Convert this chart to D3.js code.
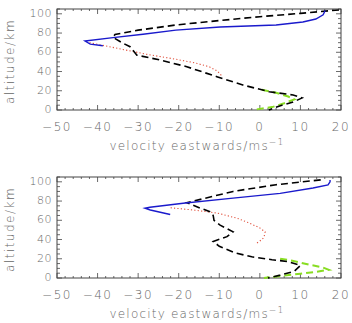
<!DOCTYPE html>
<html>
<head>
<meta charset="utf-8">
<script src="https://cdn.jsdelivr.net/npm/d3@7"></script>
<style>
  body { margin: 0; background: #fff; }
  svg text { font-family: "DejaVu Sans", sans-serif; font-weight: 300; fill: #666; }
</style>
</head>
<body>
<div id="chart"></div>
<script>
// tick values
var xTicks = [-50, -40, -30, -20, -10, 0, 10, 20];
var yTicks = [0, 20, 40, 60, 80, 100];

// upper panel, [velocity, altitude]
var topBlue = [[16.1,103.5],[15.6,99],[13.8,94.6],[10.6,91.5],[4,88.4],[-9.8,86.3],[-20.7,83],[-28.8,78.7],[-36.2,75.2],[-43.1,71.7],[-41.8,68.5],[-38.7,66.8]];
var topRed = [[-42,70],[-35,64],[-28,58],[-21,53],[-16,49],[-12.5,45],[-10.5,40.5],[-9.5,36]];
var topBlack = [[19.5,104],[10,100.5],[0,97],[-10,93],[-20.5,88.5],[-30,83],[-35.7,78.5],[-36.2,75.5],[-34,70],[-32,65.8],[-30.3,57],[-24.6,52],[-18,45],[-10.6,34.6],[-4.2,26],[2.3,19],[8.2,15.6],[10.4,12.5],[8.2,8.3],[4.7,4],[2.2,0]];
var topGreen = [[0.5,21],[4,18],[7,14],[8.5,11],[6,7],[3,3],[-1,0.5]];

// lower panel
var botBlue = [[17.3,102],[17.3,100],[16.8,96.7],[13.1,93.6],[5,88],[-6.6,83],[-18.9,77.7],[-27.1,73.5],[-28.3,72.5],[-27,70.7],[-22.1,66]];
var botRed = [[-22,73],[-16,70.5],[-10.5,67.5],[-5.5,62],[-2.5,57],[0,52],[1.3,48],[1,42],[0,38.5],[-1,35.5]];
var botBlack = [[15,102],[4,97],[-6.6,90],[-18,78.3],[-17,76.5],[-14.8,72.8],[-12.3,69],[-11.5,65],[-11.3,60],[-9.8,55],[-6.6,48],[-8.1,43],[-11.5,38],[-10,33],[-6,26],[-2,22],[3,19],[7,17],[10,13],[8.5,7],[5,3],[2,0]];
var botGreen = [[5,20],[8,18],[12,14],[15.5,11],[17,8.5],[14,6.5],[10,4.5],[6,2.5],[3,1],[1,0]];

var width = 352, height = 323;
var svg = d3.select("#chart").append("svg")
    .attr("width", width).attr("height", height);

var styles = {
    blue:  {color: "#1a1acc", w: 1.4, dash: null},
    red:   {color: "#e0503c", w: 1.1, dash: "1.2,2.2"},
    black: {color: "#000000", w: 1.6, dash: "7,4"},
    green: {color: "#88dd22", w: 2, dash: "7,4"}
};

function drawPanel(top, bottom, series) {
    var left = 57, right = 341;
    var x = d3.scaleLinear().domain([-50, 20]).range([left, right]);
    var y = d3.scaleLinear().domain([0, 105]).range([bottom, top]);
    var g = svg.append("g");

    // frame
    g.append("rect")
        .attr("x", left).attr("y", top)
        .attr("width", right - left).attr("height", bottom - top)
        .attr("fill", "none").attr("stroke", "#444").attr("stroke-width", 1);

    // ticks inward on all sides
    var xMinor = d3.range(-50, 20.01, 2);
    var yMinor = d3.range(0, 105.01, 5);
    xMinor.forEach(function(v) {
        var len = (v % 10 === 0) ? 5 : 2;
        g.append("line").attr("x1", x(v)).attr("x2", x(v)).attr("y1", bottom).attr("y2", bottom - len)
            .attr("stroke", "#444").attr("stroke-width", 0.8);
        g.append("line").attr("x1", x(v)).attr("x2", x(v)).attr("y1", top).attr("y2", top + len)
            .attr("stroke", "#444").attr("stroke-width", 0.8);
    });
    yMinor.forEach(function(v) {
        var len = (v % 20 === 0) ? 5 : 3;
        g.append("line").attr("x1", left).attr("x2", left + len).attr("y1", y(v)).attr("y2", y(v))
            .attr("stroke", "#444").attr("stroke-width", 0.8);
        g.append("line").attr("x1", right).attr("x2", right - len).attr("y1", y(v)).attr("y2", y(v))
            .attr("stroke", "#444").attr("stroke-width", 0.8);
    });

    // tick labels
    g.selectAll(".xl").data(xTicks).enter().append("text")
        .attr("x", function(d) { return x(d); })
        .attr("y", bottom + 21)
        .attr("text-anchor", "middle")
        .attr("font-size", 12)
        .attr("letter-spacing", 1.5)
        .text(function(d) { return d < 0 ? "\u2212" + Math.abs(d) : d; });

    g.selectAll(".yl").data(yTicks).enter().append("text")
        .attr("x", 52)
        .attr("y", function(d) { return y(d) + 3; })
        .attr("text-anchor", "end")
        .attr("font-size", 11)
        .attr("letter-spacing", 0.5)
        .text(function(d) { return d; });

    // axis titles
    var xt = g.append("text")
        .attr("x", 197).attr("y", bottom + 40)
        .attr("text-anchor", "middle")
        .attr("font-size", 12)
        .attr("letter-spacing", 1.2);
    xt.append("tspan").text("velocity eastwards/ms");
    xt.append("tspan").attr("dy", -5).attr("font-size", 9).text("\u22121");

    g.append("text")
        .attr("transform", "translate(14," + ((top + bottom) / 2 + 2) + ") rotate(-90)")
        .attr("text-anchor", "middle")
        .attr("font-size", 12)
        .attr("letter-spacing", 1.5)
        .text("altitude/km");

    var line = d3.line().x(function(d) { return x(d[0]); }).y(function(d) { return y(d[1]); });

    series.forEach(function(s) {
        var st = styles[s.style];
        g.append("path")
            .datum(s.data)
            .attr("d", line)
            .attr("fill", "none")
            .attr("stroke", st.color)
            .attr("stroke-width", st.w)
            .attr("stroke-dasharray", st.dash);
    });
}

drawPanel(9, 110, [
    {data: topRed, style: "red"},
    {data: topGreen, style: "green"},
    {data: topBlack, style: "black"},
    {data: topBlue, style: "blue"}
]);
drawPanel(177, 278, [
    {data: botRed, style: "red"},
    {data: botGreen, style: "green"},
    {data: botBlack, style: "black"},
    {data: botBlue, style: "blue"}
]);
</script>
</body>
</html>
